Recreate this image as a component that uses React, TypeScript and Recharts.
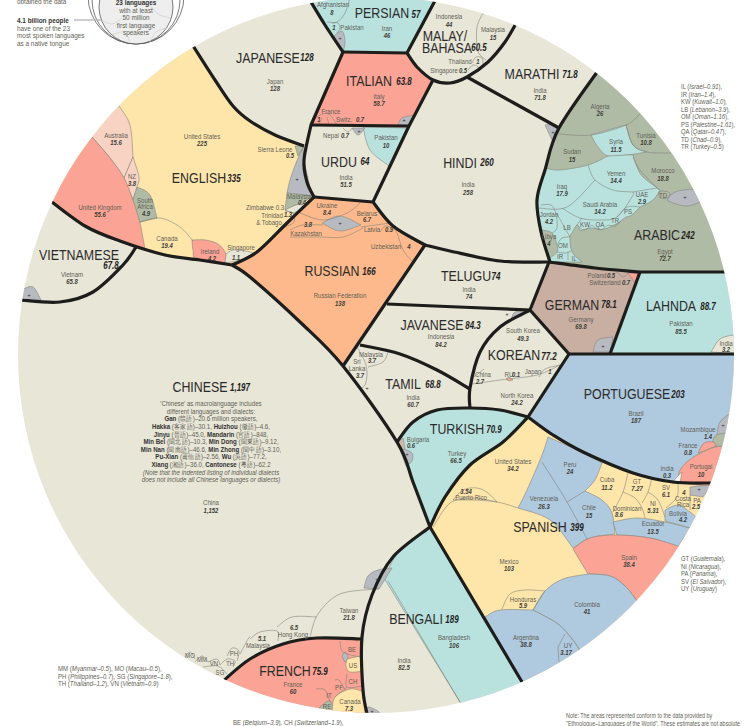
import React from 'react';
import { ScatterChart, Scatter, XAxis, YAxis } from 'recharts';

// language headline names and first-language speakers (millions)
const languageNames = ['CHINESE', 'ENGLISH', 'JAPANESE', 'PERSIAN', 'ITALIAN', 'URDU', 'MALAY/', 'BAHASA', 'MARATHI', 'HINDI', 'ARABIC', 'VIETNAMESE', 'RUSSIAN', 'TELUGU', 'JAVANESE', 'TAMIL', 'GERMAN', 'LAHNDA', 'KOREAN', 'PORTUGUESE', 'TURKISH', 'SPANISH', 'BENGALI', 'FRENCH'];
const languageTotals = ['1,197', '335', '128', '57', '63.8', '64', '', '60.5', '71.8', '260', '242', '67.8', '166', '74', '84.3', '68.8', '78.1', '88.7', '77.2', '203', '70.9', '399', '189', '75.9'];
const languageAnchors = [[200, 386, 240, 388], [199, 177, 234, 179], [268, 57, 307, 58], [382, 12, 416, 15], [369, 80, 404, 82], [339, 161, 365, 162], [445, 35, 0, 0], [447, 47, 479, 48], [532, 73, 570, 75], [460, 162, 487, 163], [657, 234, 688, 236], [79, 254, 111, 266], [332, 270, 369, 272], [466, 275, 496, 277], [432, 324, 473, 326], [403, 383, 433, 385], [572, 304, 609, 305], [671, 305, 708, 307], [514, 354, 549, 357], [627, 393, 678, 395], [457, 428, 494, 430], [540, 526, 577, 528], [416, 618, 452, 620], [285, 670, 320, 672]];

// countries per language, speakers as printed, [name x, name y, value x, value y]
const chineseCountries = ['China', 'Taiwan', '', 'Hong Kong', '', 'Malaysia', 'MO', 'MM', 'VN', 'SG', 'TH', 'PH'];
const chineseSpeakers = ['1,152', '21.8', '6.5', '', '5.1', '', '', '', '', '', '', ''];
const chineseAnchors = [[211, 502, 211, 510], [349, 610, 349, 617], [0, 0, 294, 627], [293, 634, 0, 0], [0, 0, 262, 638], [258, 645, 0, 0], [190, 655, 0, 0], [202, 659, 0, 0], [214, 663, 0, 0], [220, 672, 0, 0], [230, 663, 0, 0], [234, 653, 0, 0]];

const englishCountries = ['United States', 'Australia', 'NZ', 'South', 'Africa', 'United Kingdom', 'Canada', 'Ireland', 'Singapore', 'Sierra Leone', 'Malaysia', 'Zimbabwe 0.3', 'Trinidad', '& Tobago'];
const englishSpeakers = ['225', '15.6', '3.8', '', '4.9', '55.6', '19.4', '4.2', '1.1', '0.5', '0.4', '', '1.3', ''];
const englishAnchors = [[202, 136, 202, 143], [116, 135, 116, 142], [132, 176, 132, 183], [145, 200, 0, 0], [145, 206, 146, 213], [100, 207, 100, 214], [167, 238, 167, 245], [210, 251, 212, 258], [241, 247, 236, 257], [275, 149, 290, 155], [299, 196, 302, 202], [265, 207, 0, 0], [272, 215, 288, 214], [269, 222, 0, 0]];

const japaneseCountries = ['Japan'];
const japaneseSpeakers = ['128'];
const japaneseAnchors = [[275, 81, 275, 88]];

const persianCountries = ['Afghanistan', 'Pakistan', 'Iran', ''];
const persianSpeakers = ['8', '', '46', '1'];
const persianAnchors = [[333, 4, 332, 12], [352, 27, 0, 0], [387, 28, 387, 35], [0, 0, 334, 27]];

const italianCountries = ['Italy', 'France', 'Switz.', ''];
const italianSpeakers = ['58.7', '', '0.7', '1'];
const italianAnchors = [[379, 96, 379, 103], [331, 111, 0, 0], [344, 119, 360, 119], [0, 0, 319, 119]];

const urduCountries = ['India', 'Pakistan', 'Nepal'];
const urduSpeakers = ['51.5', '10', '0.7'];
const urduAnchors = [[346, 177, 346, 184], [386, 137, 386, 145], [331, 135, 345, 135]];

const malayCountries = ['Indonesia', 'Malaysia', 'Thailand', 'Singapore'];
const malaySpeakers = ['44', '15', '1', '0.5'];
const malayAnchors = [[449, 16, 449, 24], [493, 29, 493, 37], [460, 61, 478, 61], [444, 70, 463, 70]];

const marathiCountries = ['India'];
const marathiSpeakers = ['71.8'];
const marathiAnchors = [[540, 90, 540, 97]];

const hindiCountries = ['India'];
const hindiSpeakers = ['258'];
const hindiAnchors = [[468, 184, 468, 192]];

const arabicCountries = ['Algeria', 'Tunisia', 'Syria', 'Sudan', 'Yemen', 'Morocco', 'Iraq', 'Saudi Arabia', 'UAE', 'TD', 'PS', 'Jordan', 'LB', 'KW', 'QA', 'TR', 'Libya', 'OM', 'IR', 'IL', 'Egypt'];
const arabicSpeakers = ['26', '10.8', '11.5', '15', '14.4', '18.8', '17.9', '14.2', '2.9', '', '', '4.2', '', '', '', '', '4', '', '', '', '72.7'];
const arabicAnchors = [[600, 106, 600, 113], [646, 135, 646, 142], [616, 141, 616, 149], [572, 151, 572, 159], [616, 173, 616, 180], [663, 170, 663, 178], [562, 186, 562, 193], [600, 204, 600, 211], [642, 194, 642, 201], [663, 195, 0, 0], [628, 211, 0, 0], [549, 214, 549, 221], [567, 227, 0, 0], [585, 224, 0, 0], [600, 224, 0, 0], [615, 220, 0, 0], [549, 236, 549, 243], [563, 245, 0, 0], [560, 256, 0, 0], [574, 258, 0, 0], [665, 251, 665, 258]];

const vietnameseCountries = ['Vietnam'];
const vietnameseSpeakers = ['65.8'];
const vietnameseAnchors = [[72, 274, 72, 281]];

const russianCountries = ['Russian Federation', 'Ukraine', 'Belarus', 'Kazakhstan', 'Latvia', 'Uzbekistan'];
const russianSpeakers = ['138', '8.4', '6.7', '3.8', '0.9', '4'];
const russianAnchors = [[340, 295, 340, 303], [327, 205, 327, 212], [367, 213, 367, 219], [306, 233, 308, 224], [372, 229, 389, 229], [386, 246, 409, 246]];

const teluguCountries = ['India'];
const teluguSpeakers = ['74'];
const teluguAnchors = [[469, 289, 469, 296]];

const javaneseCountries = ['Indonesia'];
const javaneseSpeakers = ['84.2'];
const javaneseAnchors = [[441, 336, 441, 344]];

const tamilCountries = ['India', 'Malaysia', 'Sri', 'Lanka'];
const tamilSpeakers = ['60.7', '3.7', '', '3.7'];
const tamilAnchors = [[413, 397, 413, 404], [371, 354, 372, 360], [357, 361, 0, 0], [357, 368, 360, 375]];

const germanCountries = ['Germany', 'Poland', 'Switzerland'];
const germanSpeakers = ['69.8', '0.5', '0.7'];
const germanAnchors = [[581, 319, 581, 326], [597, 275, 611, 275], [605, 282, 626, 282]];

const lahndaCountries = ['Pakistan', 'India'];
const lahndaSpeakers = ['85.5', '3.2'];
const lahndaAnchors = [[681, 323, 681, 331], [726, 343, 726, 349]];

const koreanCountries = ['South Korea', 'North Korea', 'China', 'RU', 'Japan'];
const koreanSpeakers = ['49.3', '24.2', '2.7', '0.1', '1'];
const koreanAnchors = [[523, 330, 523, 338], [517, 395, 517, 402], [483, 374, 480, 381], [509, 374, 516, 374], [533, 371, 550, 371]];

const portugueseCountries = ['Brazil', 'Mozambique', 'France', 'India', 'Portugal'];
const portugueseSpeakers = ['187', '1.4', '0.8', '0.3', '10'];
const portugueseAnchors = [[636, 413, 636, 420], [698, 429, 708, 436], [688, 445, 688, 452], [667, 468, 667, 475], [701, 466, 701, 474]];

const turkishCountries = ['Turkey', 'Bulgaria'];
const turkishSpeakers = ['66.5', '0.6'];
const turkishAnchors = [[457, 453, 456, 460], [418, 439, 411, 445]];

const spanishCountries = ['Mexico', 'United States', 'Puerto Rico', 'Peru', 'Venezuela', 'Chile', 'Cuba', 'GT', 'SV', 'Dominican', 'NI', 'Costa', 'Rica', 'PA', 'Bolivia', 'Ecuador', 'Spain', 'Colombia', 'Argentina', 'UY', 'Honduras'];
const spanishSpeakers = ['103', '34.2', '3.54', '24', '26.3', '15', '11.2', '7.27', '6.1', '8.6', '5.31', '4', '', '2.5', '4.2', '13.5', '38.4', '41', '38.8', '3.17', '5.9'];
const spanishAnchors = [[509, 561, 509, 568], [513, 461, 513, 468], [471, 497, 466, 491], [570, 464, 570, 471], [544, 498, 544, 506], [589, 507, 589, 515], [607, 479, 607, 487], [637, 481, 637, 488], [666, 487, 666, 494], [627, 508, 619, 514], [653, 503, 653, 510], [683, 498, 684, 492], [683, 504, 0, 0], [697, 500, 696, 506], [678, 513, 683, 519], [653, 523, 653, 531], [629, 557, 629, 564], [587, 604, 587, 611], [526, 637, 526, 644], [568, 645, 566, 652], [523, 599, 523, 605]];

const bengaliCountries = ['India', 'Bangladesh'];
const bengaliSpeakers = ['82.5', '106'];
const bengaliAnchors = [[404, 660, 404, 667], [454, 637, 454, 645]];

const frenchCountries = ['France', 'BE', 'US', 'CH', 'PF', 'IT', 'RE', 'Canada'];
const frenchSpeakers = ['60', '', '', '', '', '', '', '7.3'];
const frenchAnchors = [[293, 684, 293, 691], [352, 649, 0, 0], [353, 665, 0, 0], [353, 681, 0, 0], [339, 687, 0, 0], [329, 695, 0, 0], [327, 706, 0, 0], [350, 701, 349, 708]];

// the "other countries" cells carry only a plus
const plusMarks = [[297, 179], [340, 223], [340, 38], [359, 131], [404, 120], [553, 132], [685, 197], [29, 295], [367, 388], [407, 454], [603, 346], [723, 425], [699, 489], [377, 579], [372, 711], [507, 314]];

const chineseNote = [
  "'Chinese' as macrolanguage includes",
  'different languages and dialects:',
  '**Gan** (贛語)–20.6 million speakers,',
  '**Hakka** (客家語)–30.1, **Huizhou** (徽語)–4.6,',
  '**Jinyu** (晉語)–45.0, **Mandarin** (官語)–848,',
  '**Min Bei** (閩北語)–10.3, **Min Dong** (閩東語)–9.12,',
  '**Min Nan** (閩南語)–46.6, **Min Zhong** (閩中語)–3.10,',
  '**Pu-Xian** (莆仙語)–2.56, **Wu** (吳語)–77.2,',
  '**Xiang** (湘語)–36.0, **Cantonese** (粵語)–62.2',
  '_(Note that the indented listing of individual dialects_',
  '_does not include all Chinese languages or dialects)_',
];
const arabicKey = ['IL (_Israel–0.91_),', 'IR (_Iran–1.4_),', 'KW (_Kuwait–1.0_),', 'LB (_Lebanon–3.9_),', 'OM (_Oman–1.16_),', 'PS (_Palestine–1.61_),', 'QA (_Qatar–0.47_),', 'TD (_Chad–0.9_),', 'TR (_Turkey–0.5_)'];
const spanishKey = ['GT (_Guatemala_),', 'NI (_Nicaragua_),', 'PA (_Panama_),', 'SV (_El Salvador_),', 'UY (_Uruguay_)'];
const chineseKey = ['MM (_Myanmar–0.5_), MO (_Macau–0.5_),', 'PH (_Philippines–0.7_), SG (_Singapore–1.8_),', 'TH (_Thailand–1.2_), VN (_Vietnam–0.9_)'];
const frenchKey = ['BE (_Belgium–3.9_), CH (_Switzerland–1.9_),'];
const sourceNote = ['Note: The areas represented conform to the data provided by', '"Ethnologue–Languages of the World". These estimates are not absolute'];
const introNote = ['obtained the data', '**4.1 billion people**', 'have one of the 23', 'most spoken languages', 'as a native tongue'];
const insetNote = ['**23 languages**', 'with at least', '50 million', 'first language', 'speakers'];

const BEIGE = '#e8e6d7';
const YELLOW = '#fee6ab';
const SALMON = '#fba395';
const ORANGE = '#fdb98c';
const TEAL = '#b9e2df';
const SAGE = '#b0bba5';
const BLUE = '#afc9df';
const BROWN = '#c9aea2';
const GRAY = '#b7bbc1';
const PINK = '#f8d3c4';
const FONT = '"Liberation Sans",sans-serif';

// outlines, in picture units; "|" is a corner, "z" closes
const cellFills: [string, string][] = [
  [YELLOW, '52,203 | 30,120 | 120,30 | 190,41 | 215,80 233,106 250,121 275,135 304,146 | 304,160 307,182 314,197 | 287,223 257,252 232,265 | 200,260 165,255 120,241 85,226 52,203'],
  [TEAL, '308,-3 | 325,25 343,52 | 407,53 | 437,-3 | z'],
  [SALMON, '343,52 | 407,53 | 417,67 433,80 | 409,126 | 311,125 | z'],
  [ORANGE, '232,265 257,252 287,223 314,197 | 373,202 | 393,226 425,245 | 343,366 | 300,322 250,277 232,265'],
  [SAGE, '597,73 | 680,100 | 745,200 | 745,272 | 640,272 | 595,268 549,262 | 541,232 537,200 545,170 559,128 597,73'],
  [TEAL, '640,272 | 745,272 | 745,354 | 610,354 | z'],
  [BROWN, '549,262 | 595,268 640,272 | 610,354 | 569,354 | 530,310 | z'],
  [BLUE, '569,354 | 745,354 | 745,483 | 712,483 | 673,482 633,473 583,452 553,435 528,417 | z'],
  [TEAL, '397,442 413,422 437,410 470,408 500,410 528,417 | 503,442 470,465 445,497 430,527 | 413,482 397,442'],
  [YELLOW, '528,417 553,435 583,452 633,473 673,482 712,483 | 740,520 | 660,660 | 525,687 | 430,527 | 445,497 470,465 503,442 528,417'],
  [TEAL, '430,527 | 525,687 | 500,730 | 470,730 | 460,702 | 384,578 | 400,550 430,527'],
  [SALMON, '222,682 250,659 283,644 317,638 362,639 | 363,690 368,718 | 340,730 | 280,720 | 200,690 | z'],
  // english
  [PINK, '119,106 130,125 133,157 | 124,178 | 110,158 92,137 | 70,120 | 100,85 | z'],
  [PINK, '133,157 139,177 137,187 133,200 | 124,178 | z'],
  [SALMON, '92,137 110,158 124,178 133,200 138,213 145,249 | 120,241 85,226 52,203 | 40,160 | z'],
  [SAGE, '137,187 150,195 157,218 | 140,222 | 133,200 | z'],
  [SALMON, '192,240 205,240 218,244 226,254 225,263 | 197,260 193,250 192,240'],
  [BEIGE, '226,254 233,250 245,251 254,253 | 240,260 225,263 | z'],
  [GRAY, '303,147 296,163 290,180 287,193 | 312,196 | 304,160 303,147'],
  [SAGE, '295,146 | 304,146 | 298,156 | z'],
  [SAGE, '287,193 | 312,196 | 305,201 296,205 285,210 | z'],
  [BEIGE, '285,210 296,205 307,203 | 301,210 292,213 | z'],
  // russian, italian, urdu, persian small cells
  [GRAY, '322,223 340,216 361,225 | 340,231 322,223'],
  [TEAL, '363,127 370,150 389,166 | 407,128 | z'],
  [GRAY, '352,128 358,135 365,128 | z'],
  [GRAY, '398,125 402,118 415,115 | 409,126 | z'],
  [GRAY, '333,37 342,31 345,42 343,52 | z'],
  [GRAY, '545,125 552,124 559,128 | 552,140 | z'],
  // arabic
  [TEAL, '591,135 608,130 626,125 | 633,145 647,152 | 627,155 608,156 598,147 591,135'],
  [TEAL, '545,168 560,170 588,165 608,156 | 627,155 633,155 | 637,167 643,177 660,190 | 653,200 640,207 | 632,215 626,217 | 618,223 | 605,229 597,229 | 590,228 580,231 | 577,225 572,233 570,237 572,252 582,262 | 550,261 557,252 557,245 552,233 542,230 | 537,213 538,195 | z'],
  [GRAY, '667,200 675,192 692,189 | 715,195 | 700,202 687,206 673,203 667,200'],
  [SAGE, '659,192 663,191 670,193 667,198 660,198 659,192'],
  // tiny cells
  [GRAY, '23,289 33,287 41,300 | 20,301 | z'],
  [SALMON, '628,273 | 639,273 | 635,283 | z'],
  [GRAY, '593,352 598,340 613,337 | 610,352 | z'],
  [ORANGE, '506,379 | 509,377 | 513,380 | 509,381 | z'],
  [GRAY, '511,320 515,312 527,312 | 522,316 | z'],
  [BEIGE, '711,352 720,339 733,335 | 745,335 | 745,354 | z'],
  ['#d4b9a8', '398,443 | 403,438 | 405,449 | 402,452 | z'],
  [GRAY, '404,449 412,453 412,461 406,466 | 401,452 | z'],
  // portuguese
  [GRAY, '717,435 720,422 732,412 | 745,420 | 735,433 | z'],
  [SAGE, '712,446 715,436 725,433 | 740,433 | 735,447 | z'],
  [SALMON, '698,453 704,443 713,442 716,446 | 704,451 | z'],
  [SALMON, '678,483 680,470 692,458 712,448 725,446 | 745,450 | 745,490 | z'],
  ['#f7f6ef', '672,483 | 677,477 682,472 | 680,483 | z'],
  // spanish
  [BLUE, '548,437 542,455 527,490 518,508 | 550,520 573,548 | 590,538 615,534 | 612,513 602,500 585,491 | 595,480 602,463 | 575,449 | z'],
  [BLUE, '613,522 637,518 665,522 690,528 | 678,547 | 650,538 617,535 | z'],
  [BLUE, '665,510 678,505 690,512 697,518 | 690,528 | 665,521 | z'],
  [GRAY, '690,487 | 712,485 | 703,497 | 690,495 | z'],
  [SALMON, '573,549 590,538 617,535 650,538 678,546 | 700,560 | 650,620 | 637,601 625,586 610,576 588,574 | z'],
  [BLUE, '588,574 610,576 625,586 637,601 | 660,640 | 600,690 | 579,649 | 572,639 558,624 533,610 | 545,591 563,579 588,574'],
  [BLUE, '485,617 500,610 533,610 | 558,624 572,639 579,649 | 570,700 | 530,710 | 522,682 | z'],
  // french
  [GRAY, '342,656 345,652 348,657 345,662 342,656'],
  [YELLOW, '347,659 360,656 | 363,671 | 350,672 346,666 347,659'],
  [SAGE, '320,707 328,701 332,704 333,718 | 315,720 | z'],
  [YELLOW, '332,712 335,697 350,689 362,691 | 366,720 | 330,722 | z'],
  // chinese, bengali corners
  [GRAY, '364,588 368,576 378,570 392,568 | 379,589 | z'],
  [GRAY, '365,714 368,707 378,711 | 385,720 | 362,722 | z'],
];

const thinLines = [
  // english
  '140,222 160,218 180,227 193,241',
  '285,211 293,213 294,222 285,227',
  // russian
  '300,213 323,220 347,213 360,203',
  '290,230 303,225 323,225',
  '290,237 320,237 343,237 363,228',
  '361,227 383,224 390,223',
  '390,223 397,233 403,250 413,262',
  '380,232 385,226 392,228',
  // italian
  '313,120 322,114 330,115 337,125',
  '327,117 329,125',
  '318,125 322,118',
  '343,128 348,132 352,128',
  // persian
  '350,-2 345,13 337,22 327,22',
  '332,23 338,23 340,28 337,33',
  // malay
  '483,13 477,27 477,47 480,55 486,60',
  '468,70 473,65 478,67 478,72',
  '472,63 476,57 482,58 483,64',
  // arabic
  '559,134 591,135 626,125 640,114',
  '626,125 633,145 647,152 671,153',
  '633,157 640,170 659,190',
  '588,165 595,180 613,190 633,192',
  '538,208 567,207 595,180',
  '562,208 580,218 600,220 617,217 632,197 633,192',
  '633,192 657,188',
  '617,217 627,207 640,207',
  '541,205 551,205 556,214 557,228 552,233',
  '557,214 570,237',
  '557,245 562,238 570,237',
  '557,252 565,253 571,251',
  '568,252 568,260',
  '577,225 582,218',
  '577,225 584,230 592,225',
  '592,225 600,230 608,225',
  '608,225 615,226 621,221',
  // tamil, korean
  '388,352 383,362 368,367',
  '357,347 365,362 367,374 365,385 360,389',
  '474,377 484,369',
  '472,384 500,380 537,375 560,365',
  '539,377 545,369 560,365',
  '617,272 623,277 628,273',
  // spanish
  '433,527 450,503 470,500 497,502 518,508',
  '453,500 463,490 477,488 488,493 497,502',
  '453,500 475,498 497,502',
  '542,462 567,502 587,539',
  '567,502 585,491',
  '628,473 623,492 613,512',
  '623,492 635,498 642,508 645,518',
  '652,478 648,492 642,503',
  '648,492 658,500 665,517',
  '678,483 677,497 666,508',
  '690,495 690,510',
  '502,609 510,594 525,590 545,591',
  '558,647 565,634',
  '558,647 559,662',
  '533,610 545,591',
  // bengali
  '388,581 460,702',
  // chinese small cells
  '310,637 318,614 340,594 378,589',
  '277,627 292,617 317,617',
  '250,639 260,632 277,631 278,641',
  '185,657 190,652 195,659',
  '195,662 202,656 208,662',
  '208,662 217,659 220,665',
  '203,667 218,666 227,674',
  '220,665 227,659 235,661 233,667',
  '227,656 232,648 239,651 237,661',
  '240,654 248,639 250,637',
  // french
  '340,641 343,652 360,657',
  '347,674 347,687 362,686',
  '347,687 335,697',
  '335,680 339,680 345,690',
  '316,689 325,690 330,702',
];

const heavyLines = [
  '190,41 215,80 233,106 250,121 275,135 304,146',
  '308,-3 325,25 343,52',
  '343,52 | 407,53 | 417,67 433,80 450,83 467,77 488,62 505,42 518,20',
  '407,53 | 437,-3',
  '343,52 | 311,125 | 304,160 307,182 314,197',
  '311,125 | 409,126',
  '433,80 | 409,126 | 373,202',
  '314,197 | 373,202 | 393,226 425,245 | 343,366',
  '314,197 287,223 257,252 232,265',
  '48,199 85,226 120,241 165,255 200,260 232,265',
  '20,300 60,302 93,292 123,265 136,247',
  '232,265 250,277 300,322 343,366 397,442 413,482 430,527',
  '425,245 450,251 500,261 549,262',
  '600,68 559,128 545,170 537,200 541,232 550,262',
  '467,77 | 559,128',
  '549,262 595,268 640,272 | 735,272',
  '549,262 | 530,310 | 569,354 | 740,354',
  '640,272 | 610,354',
  '387,304 | 530,310',
  '530,310 500,327 480,352 470,388 470,409',
  '360,345 400,354 437,370 470,389',
  '569,354 | 528,417',
  '397,442 413,422 437,410 470,408 500,410 528,417',
  '528,417 503,442 470,465 445,497 430,527',
  '528,417 553,435 583,452 633,473 673,482 712,483',
  '430,527 | 525,687',
  '430,527 393,557 372,595 362,637 363,690 368,718',
  '222,682 250,659 283,644 317,638 362,639',
];

// small overview figure at the top left, drawn outside the disc
const insetLines = ['101,20 112,24 122,18', '150,5 158,14 170,18', '112,35 124,32 130,42', '150,42 156,32 166,28', '136,-2 128,0'];
const leaderLine = '74,20 | 101,20';

type Pt = { x: number; y: number };

// splits "x,y x,y | x,y z" into its points plus where the corners fall
function parseOutline(spec: string) {
  const closed = spec.trim().endsWith('z');
  const pts: Pt[] = [];
  const breaks: number[] = [];
  spec.replace('z', '').split('|').forEach((run) => {
    const found = run.trim().split(/\s+/).filter(Boolean);
    found.forEach((t) => {
      const [x, y] = t.split(',').map(Number);
      pts.push({ x, y });
    });
    breaks.push(pts.length - 1);
  });
  return { pts, breaks, closed };
}

// catmull-rom through the scaled points, one run at a time
function outlinePath(points: Pt[], breaks: number[], closed: boolean) {
  let d = `M${points[0].x},${points[0].y}`;
  let start = 0;
  breaks.forEach((end) => {
    for (let i = start; i < end; i++) {
      const p0 = points[Math.max(i - 1, start)];
      const p1 = points[i];
      const p2 = points[i + 1];
      const p3 = points[Math.min(i + 2, end)];
      d += `C${p1.x + (p2.x - p0.x) / 6},${p1.y + (p2.y - p0.y) / 6} ${p2.x - (p3.x - p1.x) / 6},${p2.y - (p3.y - p1.y) / 6} ${p2.x},${p2.y}`;
    }
    start = end;
  });
  return closed ? d + 'Z' : d;
}

function renderOutline(key: string, spec: string, fill: string, stroke: string, strokeWidth: number, clip = true) {
  const { pts, breaks, closed } = parseOutline(spec);
  return (
    <Scatter
      key={key}
      data={pts}
      isAnimationActive={false}
      shape={() => <g />}
      line={(p: any) => (
        <g clipPath={clip ? 'url(#disc)' : undefined}>
          <path d={outlinePath(p.points, breaks, closed)} fill={fill} stroke={stroke} strokeWidth={strokeWidth} strokeLinejoin="round" />
        </g>
      )}
    />
  );
}

// **bold** and _italic_ inside one line of text
function richRuns(line: string) {
  return line.split(/(\*\*.*?\*\*|_.*?_)/).filter(Boolean).map((part, i) => {
    if (part.startsWith('**')) return <tspan key={i} fontWeight={700} fill="#333">{part.slice(2, -2)}</tspan>;
    if (part.startsWith('_')) return <tspan key={i} fontStyle="italic">{part.slice(1, -1)}</tspan>;
    return <tspan key={i}>{part}</tspan>;
  });
}

type TextRow = { x: number; y: number; text: string; size: number; color: string; squeeze: number; weight?: number; italic?: boolean; anchor?: string };

const textRows: TextRow[] = [];

languageNames.forEach((name, i) => {
  const [nx, ny, vx, vy] = languageAnchors[i];
  textRows.push({ x: nx, y: ny, text: name, size: 15.5, color: '#2b2b2b', squeeze: 0.8 });
  if (languageTotals[i]) textRows.push({ x: vx, y: vy, text: languageTotals[i], size: 10.5, color: '#222', weight: 700, italic: true, squeeze: 0.76 });
});

const countryGroups: [string[], string[], number[][]][] = [
  [chineseCountries, chineseSpeakers, chineseAnchors],
  [englishCountries, englishSpeakers, englishAnchors],
  [japaneseCountries, japaneseSpeakers, japaneseAnchors],
  [persianCountries, persianSpeakers, persianAnchors],
  [italianCountries, italianSpeakers, italianAnchors],
  [urduCountries, urduSpeakers, urduAnchors],
  [malayCountries, malaySpeakers, malayAnchors],
  [marathiCountries, marathiSpeakers, marathiAnchors],
  [hindiCountries, hindiSpeakers, hindiAnchors],
  [arabicCountries, arabicSpeakers, arabicAnchors],
  [vietnameseCountries, vietnameseSpeakers, vietnameseAnchors],
  [russianCountries, russianSpeakers, russianAnchors],
  [teluguCountries, teluguSpeakers, teluguAnchors],
  [javaneseCountries, javaneseSpeakers, javaneseAnchors],
  [tamilCountries, tamilSpeakers, tamilAnchors],
  [germanCountries, germanSpeakers, germanAnchors],
  [lahndaCountries, lahndaSpeakers, lahndaAnchors],
  [koreanCountries, koreanSpeakers, koreanAnchors],
  [portugueseCountries, portugueseSpeakers, portugueseAnchors],
  [turkishCountries, turkishSpeakers, turkishAnchors],
  [spanishCountries, spanishSpeakers, spanishAnchors],
  [bengaliCountries, bengaliSpeakers, bengaliAnchors],
  [frenchCountries, frenchSpeakers, frenchAnchors],
];

countryGroups.forEach(([names, speakers, anchors]) => {
  names.forEach((name, i) => {
    const [nx, ny, vx, vy] = anchors[i];
    if (name) textRows.push({ x: nx, y: ny, text: name, size: 7.8, color: '#5f5f56', squeeze: 0.78 });
    if (speakers[i]) textRows.push({ x: vx, y: vy, text: speakers[i], size: 7.6, color: '#3f3f39', italic: true, weight: 700, squeeze: 0.78 });
  });
});

plusMarks.forEach(([x, y]) => textRows.push({ x, y, text: '+', size: 6, color: '#333', squeeze: 1 }));

function pushBlock(lines: string[], x: number, top: number, step: number, anchor: string, size: number, squeeze: number) {
  lines.forEach((text, i) => textRows.push({ x, y: top + i * step, text, size, color: '#5f5f56', anchor, squeeze }));
}
pushBlock(chineseNote, 211, 403, 7.6, 'middle', 7.4, 0.83);
pushBlock(arabicKey, 681, 86, 7.5, 'start', 7.6, 0.78);
pushBlock(spanishKey, 681, 558, 7.5, 'start', 7.6, 0.78);
pushBlock(chineseKey, 58, 668, 7.5, 'start', 7.6, 0.8);
pushBlock(frenchKey, 233, 722, 7.5, 'start', 7.6, 0.8);
pushBlock(sourceNote, 566, 715, 7.6, 'start', 7.2, 0.75);
pushBlock(introNote.slice(0, 1), 17, 1, 7.5, 'start', 8, 0.8);
pushBlock(introNote.slice(1), 17, 20, 7.5, 'start', 8, 0.8);
pushBlock(insetNote, 136, 2, 7.4, 'middle', 8, 0.8);

// main disc and the three rings of the small overview figure: [x, y, r]
const discCenter = [{ x: 376, y: 355, r: 358 }];
const insetRings = [
  { x: 136, y: -4, r: 48, fill: 'none' },
  { x: 136, y: 0, r: 44, fill: 'none' },
  { x: 136, y: 7, r: 37, fill: '#eeeeee' },
];

export default function App() {
  return (
    <div style={{ position: 'absolute', left: 0, top: 0, width: 750, height: 726, background: '#fff' }}>
      <ScatterChart width={750} height={726} margin={{ top: 0, right: 0, bottom: 0, left: 0 }}>
        <XAxis type="number" dataKey="x" domain={[0, 750]} hide allowDataOverflow />
        <YAxis type="number" dataKey="y" domain={[0, 726]} reversed hide allowDataOverflow />
        <Scatter
          data={discCenter}
          isAnimationActive={false}
          shape={(p: any) => (
            <g>
              <defs>
                <clipPath id="disc">
                  <circle cx={p.cx} cy={p.cy} r={p.payload.r} />
                </clipPath>
              </defs>
              <circle cx={p.cx} cy={p.cy} r={p.payload.r} fill={BEIGE} />
            </g>
          )}
        />
        <Scatter
          data={insetRings}
          isAnimationActive={false}
          shape={(p: any) => <circle cx={p.cx} cy={p.cy} r={p.payload.r} fill={p.payload.fill} stroke="#444" strokeWidth={0.7} />}
        />
        {insetLines.map((spec, i) => renderOutline(`inset${i}`, spec, 'none', '#c9c9c9', 0.6, false))}
        {renderOutline('leader', leaderLine, 'none', '#b4b4b4', 1.3, false)}
        {cellFills.map(([fill, spec], i) => renderOutline(`cell${i}`, spec, fill, '#85857a', 0.6))}
        {thinLines.map((spec, i) => renderOutline(`thin${i}`, spec, 'none', '#85857a', 0.6))}
        {heavyLines.map((spec, i) => renderOutline(`heavy${i}`, spec, 'none', '#1d1d1b', 3.2))}
        <Scatter
          data={textRows}
          isAnimationActive={false}
          shape={(p: any) => {
            const t: TextRow = p.payload;
            return (
              <text
                transform={`translate(${p.cx},${p.cy}) scale(${t.squeeze},1)`}
                fontFamily={FONT}
                fontSize={t.size}
                fontWeight={t.weight ?? 400}
                fontStyle={t.italic ? 'italic' : 'normal'}
                fill={t.color}
                textAnchor={t.anchor ?? 'middle'}
                dominantBaseline="central"
              >
                {richRuns(t.text)}
              </text>
            );
          }}
        />
      </ScatterChart>
    </div>
  );
}
